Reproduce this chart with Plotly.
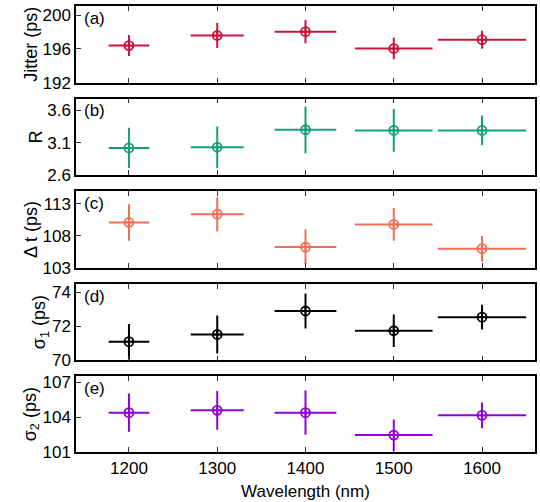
import plotly.graph_objects as go

wavelength = [1200, 1300, 1400, 1500, 1600]
wl_err = [23, 30, 35, 44, 50]

jitter = [196.4, 197.6, 198.05, 196.05, 197.1]
jitter_err = [1.25, 1.5, 1.38, 1.28, 1.07]

r_val = [3.02, 3.03, 3.30, 3.29, 3.29]
r_err = [0.31, 0.32, 0.36, 0.33, 0.23]

dt = [110.1, 111.4, 106.25, 109.8, 106.0]
dt_err = [2.85, 2.66, 2.77, 2.58, 2.0]

sigma1 = [71.1, 71.52, 72.9, 71.74, 72.54]
sigma1_err = [1.04, 1.12, 1.03, 0.95, 0.72]

sigma2 = [104.38, 104.58, 104.38, 102.45, 104.15]
sigma2_err = [1.65, 1.66, 1.9, 1.35, 1.1]

panels = [
    ("(a)", "Jitter (ps)", jitter, jitter_err, "#c8143c", [192, 201.1], [192, 196, 200]),
    ("(b)", "R", r_val, r_err, "#12a07a", [2.6, 3.78], [2.6, 3.1, 3.6]),
    ("(c)", "Δ t (ps)", dt, dt_err, "#ef6f56", [103, 115], [103, 108, 113]),
    ("(d)", "σ<sub>1</sub> (ps)", sigma1, sigma1_err, "#000000", [70, 74.5], [70, 72, 74]),
    ("(e)", "σ<sub>2</sub> (ps)", sigma2, sigma2_err, "#9400d3", [101, 107.5], [101, 104, 107]),
]

ph = 77 / 448
gap = 16 / 448

font = dict(family="Liberation Sans, Arial, sans-serif", size=17, color="black")
tfont = dict(family="Liberation Sans, Arial, sans-serif", size=18, color="black")
fig = go.Figure()
layout = {}
for i, (lab, title, vals, errs, col, rng, tv) in enumerate(panels):
    n = i + 1
    top = 1 - i * (ph + gap)
    bot = max(0, top - ph)
    xa = "x" if n == 1 else f"x{n}"
    ya = "y" if n == 1 else f"y{n}"
    fig.add_trace(go.Scatter(
        x=wavelength, y=vals, mode="markers", xaxis=xa, yaxis=ya,
        marker=dict(symbol="circle-cross-open", size=9, color=col, line=dict(width=1.8, color=col)),
        error_x=dict(type="data", array=wl_err, visible=True, thickness=2, width=0, color=col),
        error_y=dict(type="data", array=errs, visible=True, thickness=2, width=0, color=col),
        showlegend=False,
    ))
    xkey = "xaxis" if n == 1 else f"xaxis{n}"
    ykey = "yaxis" if n == 1 else f"yaxis{n}"
    layout[xkey] = dict(
        domain=[0, 1], anchor=ya, range=[1140, 1660],
        tickvals=[1200, 1300, 1400, 1500, 1600],
        ticks="inside", ticklen=5, tickwidth=1, tickcolor="#333",
        showline=True, linecolor="black", linewidth=1.5, mirror="ticks",
        showgrid=False, zeroline=False,
        showticklabels=(n == 5), tickfont=font,
        title=dict(text="Wavelength (nm)", font=font, standoff=8) if n == 5 else None,
    )
    if n != 1:
        layout[xkey]["matches"] = "x"
    layout[ykey] = dict(
        domain=[bot, top], anchor=xa, range=rng, tickvals=tv,
        ticktext=[f"{v:g}" for v in tv],
        ticks="inside", ticklen=5, tickwidth=1, tickcolor="#333",
        showline=True, linecolor="black", linewidth=1.5, mirror=True,
        showgrid=False, zeroline=False, tickfont=font,
        title=dict(text=title, font=tfont, standoff=0),
    )
    fig.add_annotation(text=lab, xref=f"{xa} domain", yref=f"{ya} domain",
                       x=0.012, y=0.99, xanchor="left", yanchor="top",
                       showarrow=False, font=font)

fig.update_layout(
    width=540, height=502,
    margin=dict(l=76, r=3, t=4, b=50),
    plot_bgcolor="white", paper_bgcolor="white",
    font=font,
    **layout,
)
fig.write_html("out.html", config={"displayModeBar": False},
               post_script="document.body.style.margin='0px';")
